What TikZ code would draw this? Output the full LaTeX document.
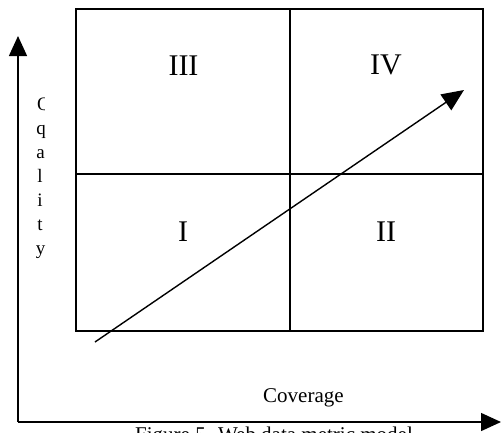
\documentclass[tikz,border=0pt]{standalone}
\usepackage{fontspec}
\setmainfont{Liberation Serif}
\usetikzlibrary{arrows.meta}
\begin{document}
\begin{tikzpicture}[x=1pt,y=-1pt,
  boxline/.style={line width=1.8pt},
  axisline/.style={line width=1.4pt,-{Triangle[length=20pt,width=18pt]}},
  diagline/.style={line width=1.4pt,-{Triangle[length=22pt,width=19pt]}},
  numeral/.style={font=\fontsize{30}{30}\selectfont,anchor=base,inner sep=0pt},
  letter/.style={font=\fontsize{19}{19}\selectfont,anchor=base,inner sep=0pt},
  lbl/.style={font=\fontsize{21}{21}\selectfont,anchor=base west,inner sep=0pt}]
\useasboundingbox (0,0) rectangle (501,432);
\fill[white] (0,0) rectangle (501,432);
% box
\coordinate (tl) at (76,9);
\coordinate (tr) at (483,9);
\coordinate (bl) at (76,331);
\coordinate (br) at (483,331);
\coordinate (mt) at (290,9);
\coordinate (mb) at (290,331);
\coordinate (ml) at (76,174);
\coordinate (mr) at (483,174);
\draw[boxline] (tl) rectangle (br);
\draw[boxline] (mt) -- (mb);
\draw[boxline] (ml) -- (mr);
% numerals
\node[numeral] (n3) at (183.5,75) {III};
\node[numeral] (n4) at (386,74) {IV};
\node[numeral] (n1) at (183,241) {I};
\node[numeral] (n2) at (386,241) {II};
% axes
\coordinate (o) at (18,422);
\coordinate (ytip) at (18,36);
\coordinate (xtip) at (501,422);
\draw[axisline] (o) -- (ytip);
\draw[axisline] (o) -- (xtip);
% diagonal arrow
\coordinate (ds) at (95,342);
\coordinate (de) at (464,90);
\draw[diagline] (ds) -- (de);
% Quality letters
\begin{scope}
\clip (25,85) rectangle (44,118);
\node[letter] (q0) at (44,110) {Q};
\end{scope}
\node[letter] (q1) at (41,134) {q};
\node[letter] (q2) at (40.5,158) {a};
\node[letter] (q3) at (40,182) {l};
\node[letter] (q4) at (40,206) {i};
\node[letter] (q5) at (40,230) {t};
\node[letter] (q6) at (40.5,254) {y};
% labels
\node[lbl] (cov) at (263,402) {Coverage};
\node[lbl] (cap) at (135,441) {Figure 5. Web data metric model};
\end{tikzpicture}
\end{document}
